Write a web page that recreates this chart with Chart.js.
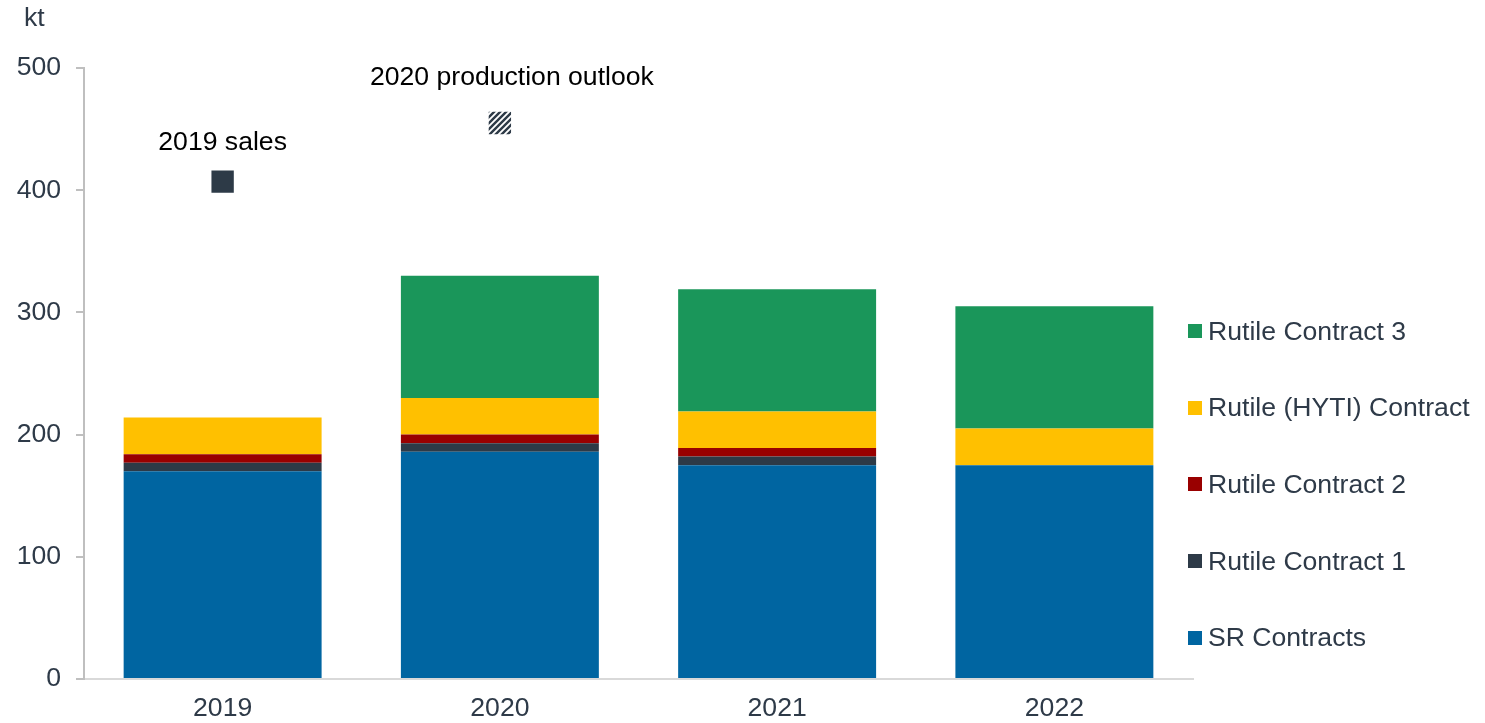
<!DOCTYPE html>
<html>
<head>
<meta charset="utf-8">
<title>Rutile and SR contracts</title>
<script src="https://cdn.jsdelivr.net/npm/chart.js@4.4.1/dist/chart.umd.min.js"></script>
<style>
  html, body { margin: 0; padding: 0; background: #fff; }
  #wrap { position: relative; width: 1485px; height: 723px; }
  #unit {
    position: absolute; left: 24px; top: 2px;
    font: 26.6px "Liberation Sans", Arial, sans-serif; color: #2e3a48;
  }
  #legend {
    position: absolute; left: 1188px; top: 293px;
    font: 26.6px "Liberation Sans", Arial, sans-serif; color: #2e3a48;
  }
  #legend .item { height: 76.6px; display: flex; align-items: center; white-space: nowrap; }
  #legend .box { width: 14px; height: 14px; margin-right: 6px; flex: none; }
</style>
</head>
<body>
<div id="wrap">
  <canvas id="chart"></canvas>
  <div id="unit">kt</div>
  <div id="legend"></div>
</div>
<script>
(function () {
  'use strict';

  // ── Data ────────────────────────────────────────────────────────────────
  const years       = ['2019', '2020', '2021', '2022'];
  const srContracts = [170, 186, 175, 175];
  const rutileC1    = [7, 7, 7, 0];
  const rutileC2    = [7, 7, 7, 0];
  const rutileHyti  = [30, 30, 30, 30];
  const rutileC3    = [0, 100, 100, 100];
  const sales2019   = [407, null, null, null];
  const outlook2020 = [null, 455, null, null];

  // ── Colour tokens ───────────────────────────────────────────────────────
  const BLUE   = '#0065a1';
  const SLATE  = '#2d3a47';
  const RED    = '#990000';
  const YELLOW = '#ffc000';
  const GREEN  = '#1a965a';
  const TEXT   = '#2e3a48';
  const FONT   = '"Liberation Sans", Arial, sans-serif';
  const SIZE   = 26.6;

  // Diagonal hatch for the outlook marker
  function hatch() {
    const c = document.createElement('canvas');
    c.width = 6; c.height = 6;
    const g = c.getContext('2d');
    g.fillStyle = '#fff';
    g.fillRect(0, 0, 6, 6);
    g.strokeStyle = SLATE;
    g.lineWidth = 2.4;
    g.beginPath();
    g.moveTo(-1, 7); g.lineTo(7, -1);
    g.moveTo(-1, 1); g.lineTo(1, -1);
    g.moveTo(5, 7);  g.lineTo(7, 5);
    g.stroke();
    return g.createPattern(c, 'repeat');
  }

  const bar = (label, data, color) => ({
    type: 'bar', label, data,
    backgroundColor: color,
    borderWidth: 0,
    barPercentage: 0.714,
    categoryPercentage: 1,
    stack: 'contracts',
  });

  const marker = (label, data, fill, stack) => ({
    type: 'line', label, data, stack,
    showLine: false,
    pointStyle: 'rect',
    pointRadius: 15.8,
    pointHoverRadius: 15.8,
    pointBackgroundColor: fill,
    pointBorderWidth: 0,
    order: -1,
  });

  const barSets = [
    bar('SR Contracts',            srContracts, BLUE),
    bar('Rutile Contract 1',       rutileC1,    SLATE),
    bar('Rutile Contract 2',       rutileC2,    RED),
    bar('Rutile (HYTI) Contract',  rutileHyti,  YELLOW),
    bar('Rutile Contract 3',       rutileC3,    GREEN),
  ];

  const datasets = barSets.concat([
    marker('2019 sales',              sales2019,   SLATE,   'sales'),
    marker('2020 production outlook', outlook2020, hatch(), 'outlook'),
  ]);

  // Marker captions: dataset index → offset of text from the point
  const captions = [
    { ds: 5, dx: 0,  dy: -39 },
    { ds: 6, dx: 12, dy: -45 },
  ];

  const captionPlugin = {
    id: 'captions',
    afterDatasetsDraw(chart) {
      const ctx = chart.ctx;
      ctx.save();
      ctx.font = SIZE + 'px ' + FONT;
      ctx.fillStyle = '#000';
      ctx.textAlign = 'center';
      ctx.textBaseline = 'middle';
      captions.forEach(c => {
        const ds = chart.data.datasets[c.ds];
        const meta = chart.getDatasetMeta(c.ds);
        ds.data.forEach((v, i) => {
          if (v == null) return;
          const pt = meta.data[i];
          ctx.fillText(ds.label, pt.x + c.dx, pt.y + c.dy);
        });
      });
      ctx.restore();
    },
  };

  new Chart(document.getElementById('chart'), {
    data: { labels: years, datasets },
    plugins: [captionPlugin],
    options: {
      responsive: true,
      maintainAspectRatio: false,
      animation: false,
      layout: { padding: { top: 68, right: 292, bottom: 0, left: 0 } },
      plugins: {
        legend: { display: false },
        tooltip: { enabled: false },
      },
      scales: {
        x: {
          stacked: true,
          grid: { display: false, drawTicks: false },
          border: { display: true, color: '#d9d9d9', width: 2 },
          ticks: { color: TEXT, font: { family: FONT, size: SIZE }, padding: 14 },
          afterFit: s => { s.height = 44; },
        },
        y: {
          stacked: true,
          min: 0,
          max: 500,
          grid: { drawOnChartArea: false, drawTicks: true, tickLength: 8, color: '#bfbfbf', lineWidth: 2 },
          border: { display: true, color: '#bfbfbf', width: 2 },
          ticks: { stepSize: 100, color: TEXT, font: { family: FONT, size: SIZE }, padding: 15 },
          afterFit: s => { s.width = 84; },
        },
      },
    },
  });

  // ── HTML legend, top-to-bottom = reverse stack order ───────────────────
  const legend = document.getElementById('legend');
  barSets.slice().reverse().forEach(d => {
    const row = document.createElement('div');
    row.className = 'item';
    const box = document.createElement('span');
    box.className = 'box';
    box.style.background = d.backgroundColor;
    const txt = document.createElement('span');
    txt.textContent = d.label;
    row.appendChild(box);
    row.appendChild(txt);
    legend.appendChild(row);
  });
})();
</script>
</body>
</html>
